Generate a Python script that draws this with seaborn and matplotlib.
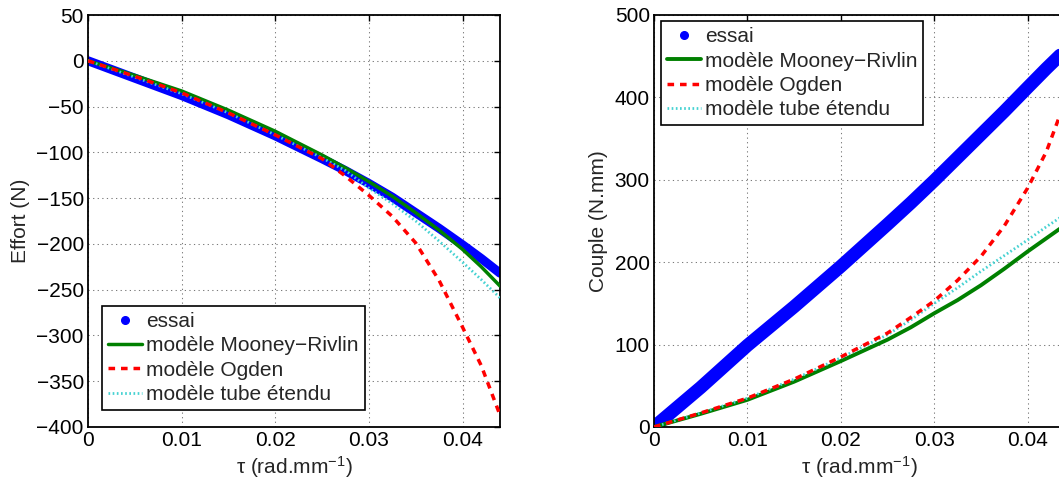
import numpy as np
import pandas as pd
import matplotlib
matplotlib.use("Agg")
import matplotlib.pyplot as plt
from matplotlib.lines import Line2D
import seaborn as sns

# ---------------- data ----------------
tau = [0, 0.005, 0.01, 0.015, 0.02, 0.025, 0.0275, 0.03, 0.0325, 0.035, 0.0375, 0.04, 0.042, 0.044]

effort_essai   = [0, -19, -38, -59, -82, -107, -120, -134, -149, -166, -183, -201, -216, -232]
effort_mooney  = [0, -16, -33, -54, -77, -103, -117, -132, -148, -166, -185, -206, -225, -246]
effort_ogden   = [0, -17, -35, -57, -81, -107, -126, -147, -170, -199, -240, -291, -333, -387]
effort_tube    = [0, -18, -36, -57, -81, -106, -120, -139, -156, -175, -197, -220, -239, -259]

couple_essai   = [0, 48, 99, 146, 195, 246, 272, 299, 327, 355, 383, 412, 435, 457]
couple_mooney  = [0, 16, 33, 55, 80, 106, 121, 138, 154, 172, 192, 213, 229, 245]
couple_ogden   = [0, 17, 35, 58, 85, 114, 133, 153, 178, 207, 244, 290, 334, 395]
couple_tube    = [0, 17, 35, 58, 84, 112, 130, 150, 169, 189, 208, 227, 243, 258]

labels = ["essai", "modèle Mooney\u2212Rivlin", "modèle Ogden", "modèle tube étendu"]
xticks = [0, 0.01, 0.02, 0.03, 0.04]
xticklabels = ["0", "0.01", "0.02", "0.03", "0.04"]
yticks_left = list(range(-400, 51, 50))
yticks_right = list(range(0, 501, 100))

# ---------------- style ----------------
sns.set_style("white")
plt.rcParams["font.family"] = ["Liberation Sans", "DejaVu Sans"]
plt.rcParams["mathtext.fontset"] = "custom"
plt.rcParams["mathtext.rm"] = "Liberation Sans"
plt.rcParams["mathtext.it"] = "Liberation Sans:italic"
plt.rcParams["mathtext.default"] = "regular"
FS = 15

C_BLUE = "#0000ff"
C_GREEN = "#008000"
C_RED = "#ff0000"
C_CYAN = "#45d2d2"

fig = plt.figure(figsize=(10.59, 4.87), dpi=100)
W, H = 1059, 487
axL = fig.add_axes([88 / W, (H - 427) / H, 412 / W, 412 / H])
axR = fig.add_axes([654 / W, (H - 427) / H, 411 / W, 412 / H])


def draw(ax, essai, mooney, ogden, tube, blue_lw, green_lw):
    df = pd.DataFrame({"tau": tau, "essai": essai, "mooney": mooney,
                       "ogden": ogden, "tube": tube})
    sns.lineplot(data=df, x="tau", y="essai", ax=ax, color=C_BLUE,
                 linewidth=blue_lw, solid_capstyle="round", zorder=2)
    sns.lineplot(data=df, x="tau", y="mooney", ax=ax, color=C_GREEN,
                 linewidth=green_lw, zorder=3)
    sns.lineplot(data=df, x="tau", y="ogden", ax=ax, color=C_RED,
                 linewidth=2.5, linestyle=(0, (1.9, 1.7)), zorder=4)
    sns.lineplot(data=df, x="tau", y="tube", ax=ax, color=C_CYAN,
                 linewidth=2.0, linestyle=(0, (0.6, 0.9)), zorder=3)
    ax.set_xlim(0, 0.044)
    ax.set_xticks(xticks)
    ax.set_xticklabels(xticklabels)
    ax.grid(True, linestyle=(0, (1.2, 3.2)), color="#7a7a7a", linewidth=0.75)
    ax.tick_params(direction="in", length=4, width=1, top=True, right=True,
                   labelsize=FS, pad=3, colors="black")
    for s in ax.spines.values():
        s.set_visible(True)
        s.set_color("black")
        s.set_linewidth(1.3)
    ax.set_xlabel("τ (rad.mm$^{-1}$)", fontsize=FS, labelpad=3)


draw(axL, effort_essai, effort_mooney, effort_ogden, effort_tube, 6.5, 2.5)
axL.set_ylim(-400, 50)
axL.set_yticks(yticks_left)
axL.set_ylabel("Effort (N)", fontsize=FS, labelpad=5)

draw(axR, couple_essai, couple_mooney, couple_ogden, couple_tube, 9.5, 2.8)
axR.set_ylim(0, 500)
axR.set_yticks(yticks_right)
axR.set_ylabel("Couple (N.mm)", fontsize=FS, labelpad=5)


def handles(green_lw):
    return [
        Line2D([], [], color=C_BLUE, marker="o", linestyle="none", markersize=5.5),
        Line2D([], [], color=C_GREEN, linewidth=green_lw),
        Line2D([], [], color=C_RED, linewidth=2.5, linestyle=(0, (1.9, 1.7))),
        Line2D([], [], color=C_CYAN, linewidth=2.0, linestyle=(0, (0.6, 0.9))),
    ]


leg_kw = dict(fontsize=FS, frameon=True, fancybox=False, framealpha=1,
              edgecolor="black", borderaxespad=0, borderpad=0.3,
              handlelength=1.6, handletextpad=0.2, labelspacing=0.25,
              numpoints=1)
legL = axL.legend(handles(2.5), labels, loc="lower left",
                  bbox_to_anchor=(0.034, 0.041), **leg_kw)
legR = axR.legend(handles(2.8), labels, loc="upper left",
                  bbox_to_anchor=(0.017, 0.985), **leg_kw)
for lg in (legL, legR):
    lg.get_frame().set_linewidth(1.2)

fig.savefig("out.png", dpi=100)
